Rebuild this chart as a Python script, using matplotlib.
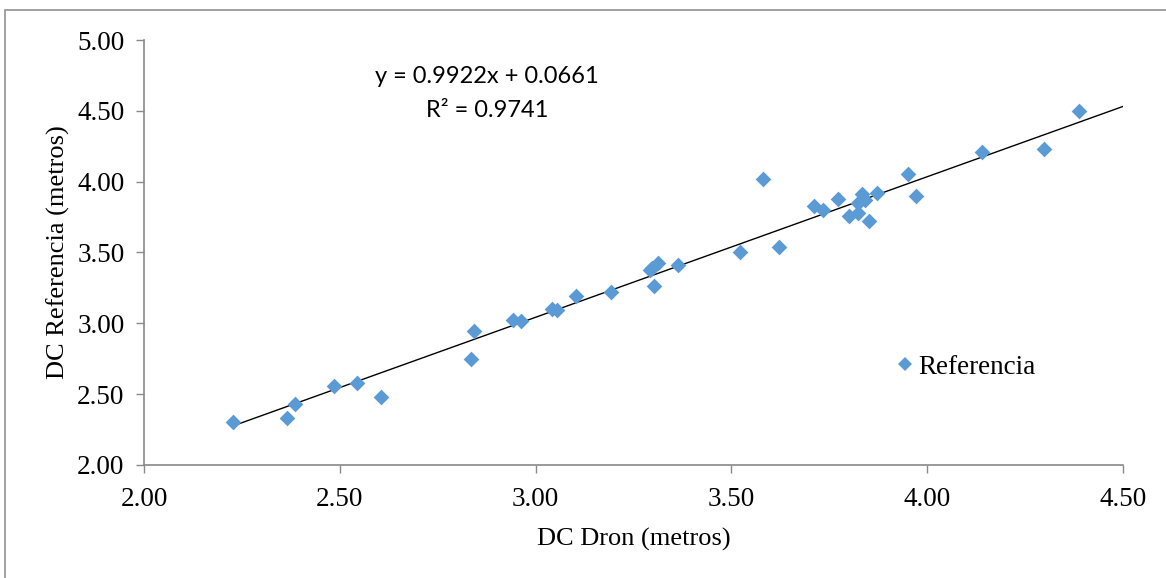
import matplotlib
matplotlib.use("Agg")
import matplotlib.pyplot as plt
from matplotlib.patches import Rectangle
from matplotlib.lines import Line2D

# Distancias medidas con dron frente a la referencia (metros)
dc_dron = [2.227, 2.366, 2.386, 2.485, 2.545, 2.604, 2.834, 2.843, 2.943, 2.962,
           3.043, 3.054, 3.103, 3.193, 3.292, 3.297, 3.313, 3.302, 3.364, 3.522,
           3.581, 3.622, 3.711, 3.733, 3.771, 3.800, 3.824, 3.824, 3.833, 3.841,
           3.851, 3.871, 3.952, 3.971, 4.141, 4.299, 4.388]
dc_referencia = [2.305, 2.330, 2.430, 2.558, 2.580, 2.478, 2.750, 2.948, 3.024, 3.017,
                 3.100, 3.094, 3.193, 3.219, 3.376, 3.390, 3.424, 3.266, 3.410, 3.500,
                 4.019, 3.539, 3.830, 3.800, 3.880, 3.758, 3.777, 3.847, 3.911, 3.870,
                 3.720, 3.922, 4.052, 3.900, 4.212, 4.231, 4.499]

# Ajuste lineal
pendiente = 0.9922
intercepto = 0.0661
r2 = 0.9741

x_ticks = [2.00, 2.50, 3.00, 3.50, 4.00, 4.50]
y_ticks = [2.00, 2.50, 3.00, 3.50, 4.00, 4.50, 5.00]

serif = "Liberation Serif"
blue = "#5B9BD5"
gray = "#898989"

fig = plt.figure(figsize=(11.66, 5.78), dpi=100)
ax = fig.add_axes([144 / 1166, 1 - 465 / 578, (1123 - 144) / 1166, (465 - 40) / 578])

ax.scatter(dc_dron, dc_referencia, marker="D", s=64, color=blue, linewidths=0, zorder=3)

x_fit = [min(dc_dron), x_ticks[-1]]
y_fit = [pendiente * v + intercepto for v in x_fit]
ax.plot(x_fit, y_fit, color="black", lw=1.0, zorder=2)

ax.set_xlim(x_ticks[0], x_ticks[-1])
ax.set_ylim(y_ticks[0], y_ticks[-1])
ax.set_xticks(x_ticks)
ax.set_yticks(y_ticks)
ax.set_xticklabels([f"{v:.2f}" for v in x_ticks], fontfamily=serif, fontsize=19.5)
ax.set_yticklabels([f"{v:.2f}" for v in y_ticks], fontfamily=serif, fontsize=19.5)
ax.tick_params(direction="out", length=6, width=1, color=gray)
ax.tick_params(axis="x", pad=10)
ax.tick_params(axis="y", pad=8)

for side in ("top", "right"):
    ax.spines[side].set_visible(False)
for side in ("left", "bottom"):
    ax.spines[side].set_color(gray)
    ax.spines[side].set_linewidth(1.2)

ax.set_xlabel("DC Dron (metros)", fontfamily=serif, fontsize=19, labelpad=11)
ax.set_ylabel("DC Referencia (metros)", fontfamily=serif, fontsize=19, labelpad=5)

ax.text(0.3505, 0.913, f"y = {pendiente}x + {intercepto}", transform=ax.transAxes,
        ha="center", va="center", fontfamily="Lato", fontsize=17)
ax.text(0.3505, 0.835, f"R² = {r2}", transform=ax.transAxes,
        ha="center", va="center", fontfamily="Lato", fontsize=17)

handle = Line2D([], [], marker="D", linestyle="none", color=blue, markersize=7.5,
                markeredgewidth=0)
ax.legend([handle], ["Referencia"], loc="center left", bbox_to_anchor=(0.755, 0.23),
          frameon=False, prop={"family": serif, "size": 19.5}, handletextpad=0.1,
          handlelength=0.8, borderaxespad=0)

# Marco exterior del gráfico
fig.add_artist(Rectangle((5 / 1166, -0.05), 1.1, 1 - 10 / 578 + 0.05,
                         transform=fig.transFigure, fill=False,
                         edgecolor="#9a9a9a", lw=1.3))

fig.savefig("out.png", dpi=100)
